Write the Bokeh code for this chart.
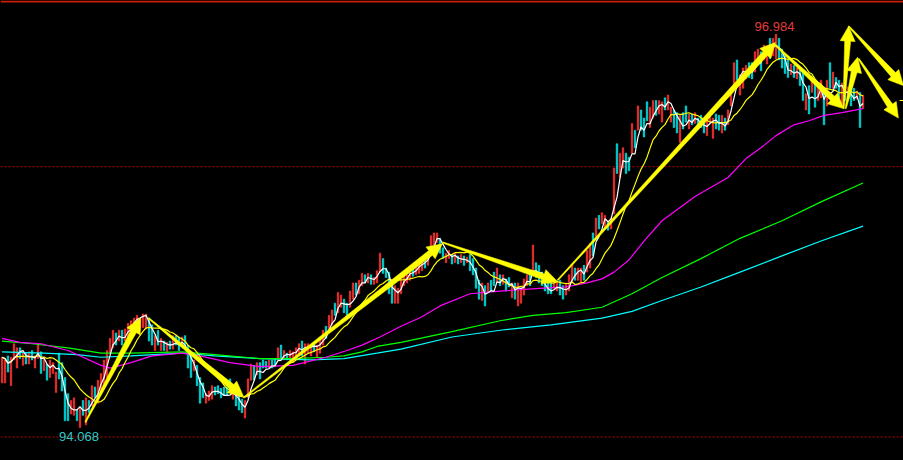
import math
import pandas as pd
from bokeh.plotting import figure
from bokeh.models import ColumnDataSource, Span, Label, Range1d, GlobalInlineStyleSheet
from bokeh.embed import file_html
from bokeh.resources import INLINE

# ---------------- data (prices) ----------------
opens = [
    94.40, 94.40, 94.60, 94.38, 94.57, 94.51, 94.66, 94.53, 94.62, 94.54,
    94.64, 94.51, 94.58, 94.63, 94.49, 94.54, 94.44, 94.47, 94.33, 94.62,
    94.55, 94.44, 94.32, 94.17, 94.16, 94.20, 94.07, 94.27, 94.09, 94.27,
    94.23, 94.37, 94.25, 94.32, 94.37, 94.44, 94.62, 94.66, 94.77, 94.71,
    94.79, 94.71, 94.71, 94.74, 94.75, 94.77, 94.79, 94.81, 94.80, 94.88,
    94.83, 94.64, 94.79, 94.64, 94.71, 94.63, 94.71, 94.65, 94.75, 94.74,
    94.68, 94.75, 94.68, 94.60, 94.49, 94.53, 94.44, 94.40, 94.25, 94.27,
    94.28, 94.37, 94.38, 94.36, 94.37, 94.37, 94.43, 94.28, 94.32, 94.31,
    94.28, 94.14, 94.29, 94.42, 94.53, 94.46, 94.55, 94.57, 94.56, 94.51,
    94.57, 94.58, 94.57, 94.68, 94.57, 94.62, 94.57, 94.55, 94.60, 94.60,
    94.71, 94.54, 94.62, 94.60, 94.70, 94.59, 94.62, 94.68, 94.82, 94.79,
    94.83, 94.99, 94.92, 94.96, 95.02, 94.99, 94.96, 95.02, 95.14, 95.06,
    95.12, 95.20, 95.14, 95.20, 95.13, 95.14, 95.22, 95.32, 95.25, 95.22,
    95.16, 94.99, 94.99, 95.06, 95.12, 95.14, 95.16, 95.26, 95.20, 95.21,
    95.23, 95.34, 95.27, 95.34, 95.42, 95.44, 95.47, 95.40, 95.29, 95.32,
    95.35, 95.29, 95.34, 95.29, 95.34, 95.29, 95.35, 95.32, 95.25, 95.16,
    95.01, 95.12, 95.07, 95.16, 95.22, 95.14, 95.20, 95.13, 95.17, 95.18,
    95.03, 95.14, 94.97, 94.99, 95.05, 95.12, 95.23, 95.22, 95.29, 95.27,
    95.22, 95.17, 95.14, 95.14, 95.10, 95.08, 95.16, 95.12, 95.05, 95.08,
    95.14, 95.25, 95.16, 95.14, 95.27, 95.22, 95.25, 95.51, 95.48, 95.64,
    95.58, 95.54, 95.59, 95.54, 95.65, 96.17, 95.92, 95.99, 96.10, 96.07,
    96.10, 96.27, 96.27, 96.42, 96.36, 96.48, 96.29, 96.36, 96.49, 96.39,
    96.33, 96.51, 96.42, 96.33, 96.42, 96.40, 96.18, 96.40, 96.45, 96.28,
    96.39, 96.32, 96.36, 96.38, 96.34, 96.23, 96.33, 96.21, 96.39, 96.38,
    96.25, 96.36, 96.31, 96.45, 96.58, 96.79, 96.53, 96.58, 96.65, 96.77,
    96.77, 96.70, 96.75, 96.85, 96.79, 96.76, 96.95, 96.82, 96.80, 96.95,
    96.87, 96.82, 96.79, 96.68, 96.75, 96.65, 96.73, 96.70, 96.42, 96.60,
    96.55, 96.62, 96.49, 96.51, 96.59, 96.45, 96.77, 96.58, 96.66, 96.64,
    96.45, 96.60, 96.53, 96.59, 96.58, 96.50, 96.55, 96.43,
]
closes = [
    94.59, 94.57, 94.48, 94.59, 94.69, 94.66, 94.58, 94.63, 94.54, 94.63,
    94.57, 94.60, 94.68, 94.47, 94.59, 94.42, 94.57, 94.55, 94.48, 94.43,
    94.34, 94.12, 94.12, 94.27, 94.29, 94.12, 94.22, 94.16, 94.29, 94.18,
    94.38, 94.29, 94.42, 94.47, 94.57, 94.64, 94.73, 94.79, 94.68, 94.79,
    94.68, 94.80, 94.84, 94.86, 94.88, 94.90, 94.88, 94.91, 94.91, 94.71,
    94.68, 94.75, 94.68, 94.73, 94.64, 94.70, 94.65, 94.75, 94.68, 94.64,
    94.74, 94.66, 94.51, 94.44, 94.57, 94.38, 94.25, 94.29, 94.32, 94.34,
    94.38, 94.31, 94.32, 94.29, 94.31, 94.31, 94.33, 94.36, 94.23, 94.20,
    94.18, 94.27, 94.43, 94.54, 94.42, 94.55, 94.43, 94.51, 94.51, 94.57,
    94.51, 94.52, 94.66, 94.58, 94.64, 94.57, 94.64, 94.63, 94.66, 94.69,
    94.60, 94.69, 94.69, 94.68, 94.63, 94.68, 94.74, 94.79, 94.73, 94.90,
    94.94, 94.90, 95.07, 95.05, 94.92, 94.88, 95.08, 95.14, 95.05, 95.16,
    95.21, 95.14, 95.21, 95.13, 95.18, 95.23, 95.36, 95.21, 95.18, 95.06,
    94.99, 95.12, 95.10, 95.16, 95.22, 95.20, 95.25, 95.19, 95.28, 95.31,
    95.32, 95.25, 95.36, 95.49, 95.51, 95.51, 95.36, 95.32, 95.36, 95.38,
    95.28, 95.36, 95.28, 95.35, 95.27, 95.33, 95.23, 95.20, 95.10, 95.02,
    95.14, 94.97, 95.14, 95.08, 95.12, 95.25, 95.12, 95.20, 95.08, 95.11,
    95.14, 95.02, 95.14, 95.10, 95.17, 95.20, 95.12, 95.42, 95.18, 95.14,
    95.12, 95.08, 95.06, 95.06, 95.16, 95.15, 95.05, 95.02, 95.14, 95.20,
    95.28, 95.16, 95.25, 95.25, 95.16, 95.38, 95.43, 95.34, 95.62, 95.54,
    95.66, 95.64, 95.53, 95.62, 95.99, 95.95, 96.10, 96.14, 95.95, 95.97,
    96.32, 96.14, 96.45, 96.27, 96.22, 96.34, 96.44, 96.49, 96.38, 96.49,
    96.48, 96.42, 96.53, 96.44, 96.29, 96.25, 96.38, 96.28, 96.33, 96.39,
    96.31, 96.40, 96.29, 96.29, 96.25, 96.36, 96.38, 96.36, 96.28, 96.27,
    96.38, 96.27, 96.42, 96.58, 96.77, 96.64, 96.68, 96.73, 96.75, 96.66,
    96.65, 96.85, 96.87, 96.71, 96.90, 96.87, 96.80, 96.95, 96.98, 96.79,
    96.73, 96.69, 96.66, 96.76, 96.66, 96.73, 96.60, 96.49, 96.54, 96.39,
    96.64, 96.44, 96.60, 96.64, 96.31, 96.64, 96.58, 96.70, 96.58, 96.51,
    96.62, 96.49, 96.59, 96.45, 96.49, 96.56, 96.29, 96.53,
]

ma_mag_idx = [0, 6, 13, 22, 27, 33, 36, 43, 50, 60, 66, 76, 86, 97, 108, 115, 120, 126, 133,
              140, 146, 156, 166, 179, 188, 195, 200, 204, 209, 214, 220, 231, 242, 248, 253,
              258, 264, 269, 274, 280, 287]
ma_mag_val = [94.73, 94.70, 94.69, 94.64, 94.59, 94.53, 94.51, 94.55, 94.60, 94.62, 94.60,
              94.55, 94.52, 94.53, 94.59, 94.64, 94.68, 94.74, 94.82, 94.89, 94.97, 95.06,
              95.08, 95.10, 95.11, 95.14, 95.17, 95.22, 95.31, 95.45, 95.60, 95.78, 95.92,
              96.06, 96.14, 96.23, 96.31, 96.34, 96.38, 96.40, 96.43]
ma_grn_idx = [0, 10, 22, 33, 43, 60, 71, 86, 97, 108, 114, 120, 125, 133, 150, 166, 177, 188,
              200, 210, 220, 233, 246, 260, 273, 287]
ma_grn_val = [94.71, 94.69, 94.66, 94.62, 94.62, 94.63, 94.61, 94.58, 94.58, 94.59, 94.60,
              94.63, 94.67, 94.70, 94.78, 94.86, 94.90, 94.92, 94.96, 95.06, 95.18, 95.32,
              95.47, 95.60, 95.74, 95.88]
ma_cyn_idx = [0, 14, 25, 33, 43, 60, 71, 86, 103, 114, 125, 133, 150, 166, 183, 200, 210, 220,
              233, 246, 260, 273, 287]
ma_cyn_val = [94.63, 94.62, 94.61, 94.59, 94.60, 94.62, 94.60, 94.58, 94.57, 94.58, 94.62,
              94.65, 94.74, 94.79, 94.83, 94.88, 94.93, 95.01, 95.11, 95.22, 95.34, 95.45,
              95.56]

# hand-drawn trend arrows: (candle index, price) start -> end
arrow_x0 = [27.8, 48.8, 80.5, 146.8, 185.2, 257.3, 280.5, 282.2, 281.2, 285.5]
arrow_y0 = [94.11, 94.88, 94.29, 95.44, 95.16, 96.91, 96.43, 97.04, 96.43, 96.80]
arrow_x1 = [46.2, 80.5, 146.8, 185.2, 257.8, 280.5, 282.2, 300.5, 285.2, 298.8]
arrow_y1 = [94.88, 94.30, 95.43, 95.15, 96.92, 96.43, 97.04, 96.60, 96.81, 96.36]

high_idx, high_price, high_text = 258, 96.984, "96.984"
low_idx, low_price, low_text = 26, 94.068, "94.068"
level_lines = [96.00, 94.00]
last_price = 96.49

# ---------------- figure ----------------
W, H = 903, 460
x_lo, x_hi = -0.5, 300.5
y_lo, y_hi = 93.826, 97.23

p = figure(width=W, height=H, x_range=Range1d(x_lo, x_hi), y_range=Range1d(y_lo, y_hi),
           output_backend="svg", toolbar_location=None,
           x_axis_location=None, y_axis_location=None,
           background_fill_color="black", border_fill_color="black", min_border=0)
p.grid.visible = False
p.outline_line_color = None
p.stylesheets = [GlobalInlineStyleSheet(css="html,body{margin:0;padding:0;background:#000;overflow:hidden;}")]

for lv in level_lines:
    p.add_layout(Span(location=lv, dimension="width", line_color="#c00000",
                      line_dash="2 2", line_width=1, level="underlay"))
p.add_layout(Span(location=y_hi - 0.0074, dimension="width", line_color="#c81e0a",
                  line_width=2))

idx = list(range(len(opens)))
up = [c >= o for o, c in zip(opens, closes)]
src = ColumnDataSource(dict(
    x=idx,
    top=[max(o, c) for o, c in zip(opens, closes)],
    bottom=[min(o, c) for o, c in zip(opens, closes)],
    color=["#ff3434" if u else "#00e4e4" for u in up],
))
p.vbar(x="x", top="top", bottom="bottom", width=0.5, fill_color="color",
       line_color="color", line_width=0.6, source=src)

# moving averages
p.line(ma_cyn_idx, ma_cyn_val, line_color="#00ffff", line_width=1.2)
p.line(ma_grn_idx, ma_grn_val, line_color="#00ff00", line_width=1.2)
p.line(ma_mag_idx, ma_mag_val, line_color="#ff00ff", line_width=1.2)
cs = pd.Series(closes)
p.line(idx, cs.rolling(14, min_periods=1).mean().tolist(), line_color="#ffff00", line_width=1.2)
p.line(idx, cs.rolling(4, min_periods=1).mean().tolist(), line_color="#ffffff", line_width=1.2)

# arrows (wedge shaft + head) built in screen space from the endpoints
XS = W / (x_hi - x_lo)
YS = H / (y_hi - y_lo)
xs_all, ys_all = [], []
for x0, y0, x1, y1 in zip(arrow_x0, arrow_y0, arrow_x1, arrow_y1):
    X0, Y0, X1, Y1 = x0 * XS, y0 * YS, x1 * XS, y1 * YS
    L = math.hypot(X1 - X0, Y1 - Y0)
    ux, uy = (X1 - X0) / L, (Y1 - Y0) / L
    nx, ny = -uy, ux
    hl, hw, w0, w1 = 15.0, 7.5, 0.6, 3.0
    bx, by = X1 - ux * hl, Y1 - uy * hl
    pts = [(X0 + nx * w0, Y0 + ny * w0), (bx + nx * w1, by + ny * w1),
           (bx + nx * hw, by + ny * hw), (X1, Y1), (bx - nx * hw, by - ny * hw),
           (bx - nx * w1, by - ny * w1), (X0 - nx * w0, Y0 - ny * w0)]
    xs_all.append([q[0] / XS for q in pts])
    ys_all.append([q[1] / YS for q in pts])
p.patches(xs_all, ys_all, fill_color="#ffff00", line_color="#ffff00", line_width=0.5)

p.segment(x0=[299.2], y0=[last_price], x1=[x_hi], y1=[last_price], line_color="#ffff00", line_width=1)

p.add_layout(Label(x=high_idx, y=high_price, text=high_text, text_color="#e23c3c",
                   text_font="Liberation Sans", text_font_size="13px",
                   text_align="center", text_baseline="bottom", x_offset=-1.5, y_offset=3))
p.add_layout(Label(x=low_idx, y=low_price, text=low_text, text_color="#30c8c8",
                   text_font="Liberation Sans", text_font_size="13px",
                   text_align="center", text_baseline="top", x_offset=-1, y_offset=-4))

open("out.html", "w").write(file_html(p, INLINE))
